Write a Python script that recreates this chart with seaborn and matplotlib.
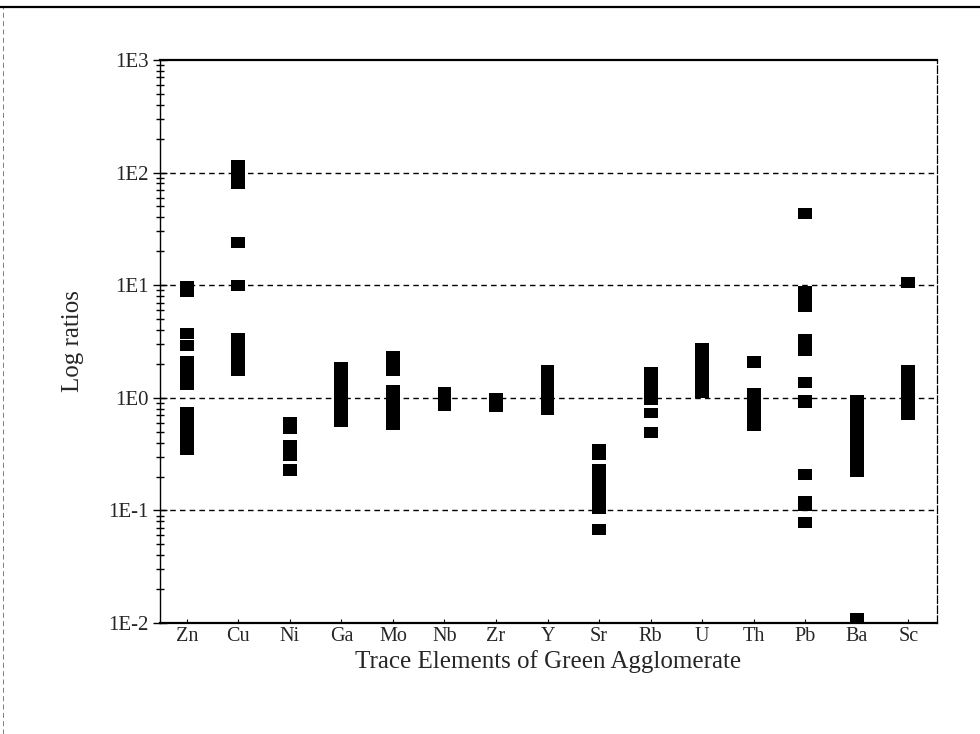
import matplotlib
matplotlib.use("Agg")
import matplotlib.pyplot as plt
from matplotlib.lines import Line2D
from matplotlib.ticker import LogLocator, NullFormatter, FixedLocator, FixedFormatter
import seaborn as sns
import pandas as pd

# Trace elements along the x axis
elements = ["Zn", "Cu", "Ni", "Ga", "Mo", "Nb", "Zr", "Y", "Sr", "Rb",
            "U", "Th", "Pb", "Ba", "Sc"]

# Each range of ratios: element, lower and upper ratio
seg_element = ["Zn", "Zn", "Zn", "Zn", "Zn",
               "Cu", "Cu", "Cu", "Cu",
               "Ni", "Ni", "Ni",
               "Ga",
               "Mo", "Mo",
               "Nb",
               "Zr",
               "Y",
               "Sr", "Sr", "Sr",
               "Rb", "Rb", "Rb",
               "U",
               "Th", "Th",
               "Pb", "Pb", "Pb", "Pb", "Pb", "Pb", "Pb", "Pb",
               "Ba", "Ba",
               "Sc", "Sc"]
seg_low = [7.8, 3.34, 2.58, 1.18, 0.31,
           72.0, 21.4, 8.9, 1.56,
           0.48, 0.272, 0.204,
           0.55,
           1.56, 0.52,
           0.77,
           0.75,
           0.71,
           0.278, 0.093, 0.061,
           0.87, 0.66, 0.44,
           1.0,
           1.84, 0.51,
           38.9, 5.8, 2.35, 1.22, 0.81, 0.187, 0.098, 0.070,
           0.20, 0.0,
           9.5, 0.63]
seg_high = [11.0, 4.16, 3.29, 2.33, 0.83,
            130.0, 26.7, 11.2, 3.76,
            0.68, 0.426, 0.256,
            2.10,
            2.63, 1.29,
            1.24,
            1.10,
            1.94,
            0.39, 0.259, 0.076,
            1.87, 0.82, 0.556,
            3.08,
            2.33, 1.23,
            48.4, 9.8, 3.68, 1.53, 1.05, 0.234, 0.133, 0.087,
            1.05, 0.0123,
            11.9, 1.96]

decade_values = [1e-2, 1e-1, 1e0, 1e1, 1e2, 1e3]
decade_labels = ["1E-2", "1E-1", "1E0", "1E1", "1E2", "1E3"]

sns.set_theme(style="white")
plt.rcParams["font.family"] = ["Liberation Serif", "DejaVu Serif"]

df = pd.DataFrame({"element": seg_element, "low": seg_low, "high": seg_high})
df["pos"] = df["element"].map({e: i for i, e in enumerate(elements)})
df["low"] = df["low"].clip(lower=1e-2)

fig = plt.figure(figsize=(9.8, 7.34), dpi=100)
ax = fig.add_axes([0.1633, 0.1512, 0.7929, 0.7671])

# Floating black ranges
ax.bar(df["pos"], df["high"] - df["low"], bottom=df["low"], width=0.27,
       color="black", edgecolor="black", linewidth=0, zorder=3)

ax.set_yscale("log")
ax.set_ylim(1e-2, 1e3)
ax.set_xlim(-0.52, 14.56)

# Dashed reference lines at inner decades
for v in decade_values[1:-1]:
    ax.axhline(v, color="black", lw=1.0, ls=(0, (4, 3)), zorder=1)

ax.yaxis.set_major_locator(FixedLocator(decade_values))
ax.yaxis.set_major_formatter(FixedFormatter(decade_labels))
ax.yaxis.set_minor_locator(LogLocator(base=10, subs=range(2, 10), numticks=20))
ax.yaxis.set_minor_formatter(NullFormatter())
ax.tick_params(axis="y", which="major", direction="inout", length=10, width=1.0,
               labelsize=15, left=True, pad=3, color="black")
ax.tick_params(axis="y", which="minor", direction="inout", length=6, width=1.0,
               left=True, color="black")

ax.set_xticks(range(len(elements)))
ax.set_xticklabels(elements)
ax.tick_params(axis="x", which="major", direction="in", length=3, width=0.8,
               labelsize=14.5, bottom=True, pad=3, color="black")

ax.set_ylabel("Log ratios", fontsize=18, labelpad=18)
ax.set_xlabel("Trace Elements of Green Agglomerate", fontsize=18, labelpad=3)

for side in ["left", "right", "top", "bottom"]:
    ax.spines[side].set_color("black")
ax.spines["top"].set_linewidth(1.6)
ax.spines["bottom"].set_linewidth(1.6)
ax.spines["left"].set_linewidth(1.0)
ax.spines["right"].set_linewidth(0.9)
ax.spines["right"].set_linestyle((0, (6, 2)))
ax.grid(False)

# Page rules above and at the left edge
fig.add_artist(Line2D([0, 1], [0.991, 0.991], transform=fig.transFigure,
                      color="black", lw=1.6))
fig.add_artist(Line2D([0.003, 0.003], [0.0, 0.99], transform=fig.transFigure,
                      color="black", lw=0.6, ls=(0, (6, 4)), alpha=0.6))

fig.savefig("out.png", dpi=100, facecolor="white")
